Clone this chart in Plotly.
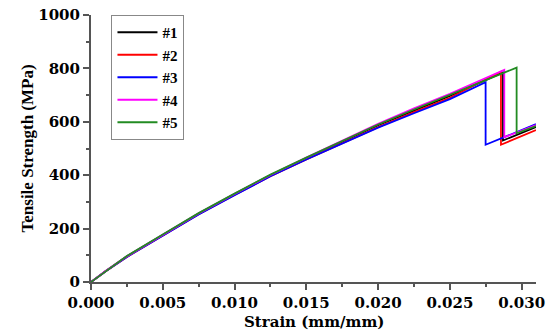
import plotly.graph_objects as go

names = ["#1", "#2", "#3", "#4", "#5"]
colors = ["#000000", "#ff0000", "#0000ff", "#ff00ff", "#228b22"]

base_strain = [0.0, 0.001, 0.0025, 0.005, 0.0075, 0.010, 0.0125, 0.015, 0.0175, 0.020, 0.0225, 0.025]

s1_x = base_strain + [0.0287, 0.0287, 0.031]
s1_y = [0, 40, 96, 177, 256, 329, 400, 464, 527, 587, 642, 697, 785, 530, 580]

s2_x = base_strain + [0.02856, 0.02856, 0.031]
s2_y = [0, 39, 94, 175, 254, 326, 396, 459, 520, 580, 636, 690, 788, 514, 569]

s3_x = base_strain + [0.02749, 0.02749, 0.031]
s3_y = [0, 39, 94, 174, 253, 325, 396, 459, 520, 578, 632, 685, 748, 514, 591]

s4_x = base_strain + [0.02879, 0.02879, 0.031]
s4_y = [0, 40, 96, 177, 257, 330, 401, 466, 530, 592, 650, 705, 794, 542, 588]

s5_x = base_strain + [0.02965, 0.02965, 0.031]
s5_y = [0, 40, 97, 178, 258, 331, 402, 466, 529, 590, 646, 700, 803, 557, 584]

xs = [s1_x, s2_x, s3_x, s4_x, s5_x]
ys = [s1_y, s2_y, s3_y, s4_y, s5_y]

x_tickvals = [0.0, 0.005, 0.010, 0.015, 0.020, 0.025, 0.030]
x_ticktext = ["0.000", "0.005", "0.010", "0.015", "0.020", "0.025", "0.030"]
y_tickvals = [0, 200, 400, 600, 800, 1000]
x_title = "Strain (mm/mm)"
y_title = "Tensile Strength (MPa)"

fig = go.Figure()
for n, c, x, y in zip(names, colors, xs, ys):
    fig.add_trace(go.Scatter(x=x, y=y, mode="lines", name=n,
                             line=dict(color=c, width=1.8)))

wide = "DejaVu Serif"
serif = "Liberation Serif"
axis_color = "#555555"

fig.update_layout(
    width=553, height=331,
    margin=dict(l=91, r=17, t=15, b=49),
    paper_bgcolor="white", plot_bgcolor="white",
    font=dict(family=serif, size=15, color="black", weight="bold"),
    showlegend=True,
    legend=dict(x=0.046, y=1.0, xanchor="left", yanchor="top",
                bordercolor="#888888", borderwidth=1, bgcolor="white",
                font=dict(family=serif, size=15, weight="bold"),
                tracegroupgap=0, itemwidth=40),
)
fig.update_xaxes(
    range=[0, 0.031], showgrid=False, zeroline=False, automargin=False,
    showline=True, linecolor=axis_color, linewidth=2,
    ticks="outside", ticklen=6, tickwidth=1.5, tickcolor=axis_color,
    tickvals=x_tickvals, ticktext=x_ticktext,
    tickfont=dict(family=wide, size=15, weight="bold"),
    minor=dict(ticks="outside", ticklen=3, tickwidth=1.5, tickcolor=axis_color, dtick=0.0025, tick0=0),
)
fig.update_yaxes(
    range=[0, 1000], showgrid=False, zeroline=False, automargin=False,
    showline=True, linecolor=axis_color, linewidth=2,
    ticks="outside", ticklen=6, tickwidth=1.5, tickcolor=axis_color,
    tickvals=y_tickvals,
    tickfont=dict(family=wide, size=15, weight="bold"),
    minor=dict(ticks="outside", ticklen=3, tickwidth=1.5, tickcolor=axis_color, dtick=100, tick0=0),
)
fig.add_annotation(text=x_title, xref="paper", yref="paper", x=0.5, y=0,
                   xanchor="center", yanchor="middle", yshift=-40, showarrow=False,
                   font=dict(family=wide, size=15, weight="bold", color="black"))
fig.add_annotation(text=y_title, xref="paper", yref="paper", x=0, y=0.5,
                   xanchor="center", yanchor="middle", xshift=-64, textangle=-90,
                   showarrow=False,
                   font=dict(family=serif, size=17, weight="bold", color="black"))

fig.write_html("out.html")
